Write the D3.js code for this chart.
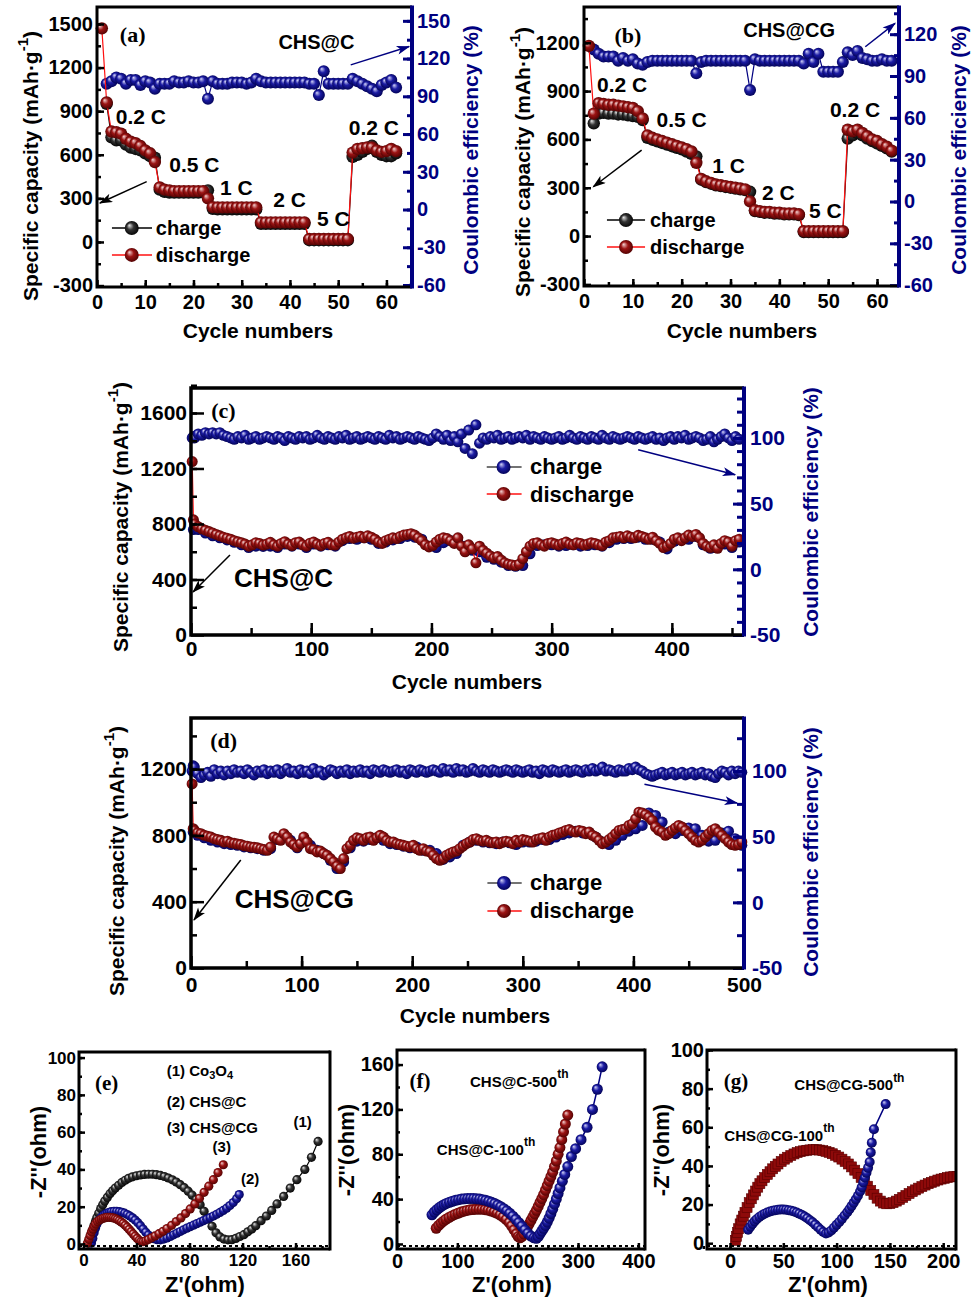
<!DOCTYPE html>
<html>
<head>
<meta charset="utf-8">
<script src="https://cdn.jsdelivr.net/npm/d3@7"></script>
<style>
body { margin: 0; background: #fff; }
svg { display: block; }
</style>
</head>
<body>
<script>
// ---------- data: (a) CHS@C rate test ----------
var cycA = d3.range(1, 63);
var cycA2 = d3.range(2, 63);
var dischA = [1470, 960, 760, 755, 745, 710, 690, 680, 660, 630, 610, 550,
  375, 360, 355, 350, 350, 350, 350, 350, 350, 350, 300,
  240, 238, 238, 238, 238, 238, 238, 238, 238, 238,
  135, 135, 135, 135, 135, 135, 135, 135, 135, 135,
  20, 20, 20, 20, 20, 20, 20, 20, 20,
  615, 640, 645, 650, 650, 630, 620, 625, 640, 625];
var chargeA = [950, 720, 700, 700, 670, 650, 640, 630, 610, 590, 580,
  360, 345, 340, 340, 340, 340, 340, 340, 340, 345, 355,
  228, 225, 225, 225, 225, 225, 225, 225, 225, 225,
  125, 125, 125, 125, 125, 125, 125, 125, 125, 125,
  12, 12, 12, 12, 12, 12, 12, 12, 12,
  585, 600, 620, 640, 662, 620, 600, 590, 590, 610];
var ceA = [100, 102, 105, 104, 100, 103, 103, 99, 102, 101, 96,
  100, 100, 100, 102, 101, 101, 102, 101, 101, 102, 88,
  102, 100, 100, 100, 101, 101, 101, 100, 101, 104,
  102, 101, 101, 101, 101, 101, 101, 101, 101, 101,
  100, 100, 91, 110, 100, 100, 100, 100, 100,
  104, 102, 100, 98, 96, 94, 99, 101, 103, 97];
var ratesA = ["0.2 C", "0.5 C", "1 C", "2 C", "5 C", "0.2 C"];
var rateXA = [9.1, 20.2, 28.9, 39.9, 49, 57.4];
var rateYA = [860, 530, 378, 289, 158, 785];

// ---------- data: (b) CHS@CG rate test ----------
var cycB = d3.range(1, 64);
var cycB2 = d3.range(2, 64);
var dischB = [1180, 760, 825, 820, 815, 815, 810, 805, 800, 795, 775, 730,
  625, 610, 600, 590, 580, 570, 560, 550, 540, 525, 455,
  355, 340, 330, 320, 315, 310, 305, 300, 295, 290, 215,
  160, 155, 150, 150, 145, 145, 140, 140, 140, 135,
  30, 30, 30, 30, 30, 30, 30, 30, 30,
  660, 650, 660, 640, 620, 600, 590, 570, 555, 530];
var chargeB = [700, 760, 765, 760, 760, 755, 755, 750, 745, 740, 720,
  610, 598, 588, 578, 568, 558, 548, 538, 525, 510, 495,
  350, 335, 325, 315, 310, 305, 300, 295, 290, 285, 275,
  155, 150, 145, 145, 140, 140, 135, 135, 135, 130,
  25, 25, 25, 25, 25, 25, 25, 25, 25,
  605, 625, 640, 625, 605, 590, 575, 560, 545, 525];
var ceB = [109, 106, 104, 104, 104, 101, 103, 101, 102, 99, 98,
  100, 101, 101, 101, 101, 101, 101, 101, 101, 101, 92,
  100, 101, 101, 101, 101, 101, 101, 101, 101, 101, 80,
  102, 101, 101, 101, 101, 101, 101, 101, 101, 101,
  99, 106, 100, 106, 93, 93, 93, 93, 100,
  107, 105, 108, 103, 102, 101, 101, 102, 101, 101];
var ratesB = ["0.2 C", "0.5 C", "1 C", "2 C", "5 C", "0.2 C"];
var rateXB = [7.8, 20, 29.6, 39.8, 49.4, 55.5];
var rateYB = [943, 724, 440, 269, 157, 786];

// ---------- data: (c) CHS@C long cycling ----------
var cycC = [1, 2].concat(d3.range(3, 457, 3));
var dischC = [1250, 830,
  800, 780, 765, 755, 745, 735, 725, 715, 705, 698,
  690, 680, 672, 665, 655, 640, 650, 665, 660, 648,
  655, 668, 650, 640, 660, 672, 655, 645, 665, 670,
  650, 640, 662, 670, 655, 645, 660, 668, 650, 648,
  670, 690, 700, 710, 698, 705, 712, 700, 715, 705,
  690, 670, 660, 680, 690, 700, 695, 710, 720, 725,
  730, 720, 700, 680, 650, 635, 645, 670, 690, 700,
  695, 680, 660, 700, 640, 600, 650, 620, 520, 640,
  610, 590, 570, 555, 565, 540, 520, 510, 505, 500,
  510, 550, 600, 640, 660, 665, 650, 640, 660, 665,
  655, 648, 660, 670, 655, 650, 665, 660, 648, 655,
  665, 660, 650, 645, 670, 680, 700, 705, 710, 700,
  715, 705, 700, 718, 710, 700, 690, 705, 680, 660,
  630, 640, 660, 690, 700, 680, 700, 720, 710, 725,
  700, 660, 640, 630, 650, 625, 660, 680, 670, 640,
  680, 690];
var cycC2 = [2].concat(d3.range(6, 457, 6));
var chargeC = [760,
  760, 735, 715, 700, 685, 668, 650, 630, 640, 638,
  640, 630, 655, 640, 655, 630, 655, 640, 650, 640,
  680, 695, 690, 700, 690, 660, 670, 685, 695, 710,
  705, 690, 640, 630, 665, 680, 665, 640, 610, 600,
  560, 545, 525, 500, 495, 500, 585, 645, 650, 650,
  640, 645, 650, 640, 645, 650, 640, 665, 690, 695,
  695, 705, 690, 690, 670, 620, 675, 690, 690, 710,
  650, 625, 640, 655, 630, 670];
var ceC = [100, 101,
  100, 103, 102, 104, 103, 104, 103, 104, 102, 101,
  100, 99, 101, 100, 102, 99, 100, 101, 99, 100,
  101, 100, 99, 101, 100, 98, 101, 100, 99, 101,
  100, 101, 99, 100, 102, 100, 99, 101, 100, 99,
  101, 100, 102, 99, 100, 101, 99, 100, 101, 100,
  99, 101, 100, 99, 102, 100, 101, 99, 100, 101,
  100, 99, 101, 100, 99, 98, 100, 103, 101, 99,
  102, 98, 101, 97, 103, 92, 106, 88, 110, 96,
  100, 99, 101, 100, 102, 99, 100, 101, 99, 100,
  101, 100, 102, 99, 101, 100, 99, 101, 100, 99,
  100, 101, 99, 100, 102, 100, 99, 101, 100, 99,
  101, 100, 99, 102, 100, 99, 101, 100, 99, 100,
  101, 100, 99, 101, 100, 99, 100, 101, 99, 100,
  98, 100, 101, 99, 101, 100, 102, 99, 100, 101,
  100, 98, 99, 101, 97, 99, 101, 103, 100, 98,
  101, 99];

// ---------- data: (d) CHS@CG long cycling ----------
var cycD = [1, 2].concat(d3.range(3, 499, 3));
var dischD = [1110, 840,
  830, 815, 810, 800, 795, 790, 780, 775, 770, 760,
  765, 755, 752, 748, 745, 738, 735, 730, 728, 725,
  720, 715, 710, 730, 790, 780, 770, 810, 790, 760,
  745, 730, 750, 790, 760, 720, 715, 700, 705, 690,
  680, 660, 640, 615, 600, 660, 720, 740, 770, 785,
  780, 770, 785, 790, 770, 785, 800, 790, 770, 760,
  760, 750, 745, 740, 735, 730, 740, 720, 710, 720,
  705, 700, 680, 660, 650, 660, 680, 690, 700, 705,
  720, 735, 750, 760, 775, 780, 770, 765, 770, 760,
  755, 760, 750, 760, 765, 760, 750, 770, 760, 775,
  770, 765, 760, 775, 780, 785, 770, 790, 800, 805,
  815, 820, 830, 835, 825, 820, 830, 825, 810, 820,
  800, 790, 770, 750, 760, 775, 790, 810, 830, 835,
  840, 860, 870, 900, 940, 935, 925, 910, 890, 850,
  830, 820, 800, 810, 830, 845, 860, 850, 830, 810,
  790, 770, 760, 770, 790, 810, 830, 840, 820, 800,
  780, 760, 745, 740, 745, 760];
var cycD2 = [2].concat(d3.range(6, 499, 6));
var chargeD = [820,
  800, 785, 770, 760, 750, 745, 740, 730, 725, 720,
  710, 720, 775, 800, 770, 725, 775, 740, 710, 690,
  650, 600, 640, 725, 765, 765, 775, 785, 770, 750,
  745, 735, 725, 730, 710, 710, 690, 655, 670, 690,
  740, 760, 770, 760, 755, 750, 760, 755, 745, 760,
  760, 765, 775, 775, 790, 805, 815, 825, 815, 815,
  790, 760, 745, 770, 800, 825, 840, 860, 935, 920,
  880, 820, 810, 830, 845, 840, 800, 765, 770, 815,
  825, 780, 740];
var ceD = [100, 104,
  103, 98, 95, 97, 99, 96, 101, 98, 100, 97,
  100, 98, 101, 99, 100, 98, 101, 99, 97, 100,
  99, 101, 98, 100, 99, 101, 98, 100, 102, 99,
  100, 98, 101, 99, 100, 98, 102, 99, 100, 97,
  99, 101, 100, 98, 100, 99, 101, 98, 100, 99,
  101, 99, 100, 98, 101, 100, 99, 101, 100, 99,
  100, 101, 99, 100, 98, 101, 100, 99, 101, 100,
  99, 100, 101, 100, 99, 102, 100, 101, 99, 102,
  100, 101, 99, 100, 102, 100, 99, 101, 100, 99,
  101, 100, 99, 100, 101, 100, 99, 101, 100, 99,
  100, 101, 99, 100, 98, 101, 100, 99, 101, 100,
  99, 100, 101, 99, 100, 101, 100, 99, 101, 100,
  102, 100, 101, 103, 100, 101, 100, 99, 101, 100,
  100, 102, 101, 103, 101, 100, 98, 97, 96, 97,
  98, 99, 97, 98, 99, 97, 98, 99, 97, 98,
  99, 97, 98, 99, 97, 98, 96, 95, 98, 100,
  99, 97, 100, 98, 100, 99];

// ---------- data: (e) Nyquist, fresh electrodes ----------
var eZr1 = [4, 5, 6, 7, 8, 9, 10, 11.5, 13, 14.5, 16, 18, 20, 22, 24, 26.5, 29, 31.5, 34, 37, 40, 43, 46, 49, 52, 55, 58, 61, 64, 67, 70, 73, 76, 79, 82, 85, 88, 91, 94, 97, 100, 103, 106, 109, 112, 115, 118, 121, 124, 127, 130, 134, 138, 142, 146, 151, 156, 161, 167, 172, 177];
var eZi1 = [0.5, 2.5, 5, 7.5, 10, 12, 14, 16.5, 19, 21, 23, 25, 27, 28.5, 30, 31.5, 33, 34.2, 35.2, 36, 36.6, 37, 37.3, 37.4, 37.4, 37.2, 36.8, 36.2, 35.4, 34.4, 33.2, 31.8, 30.2, 28.3, 26.2, 23.8, 21, 17.5, 13.5, 9.5, 6, 3.8, 2.6, 2.2, 2.3, 3, 4, 5, 6.5, 8, 9.8, 12.5, 15, 18, 21.5, 25.5, 30, 34.5, 40, 46.5, 55];
var eZr2 = [6, 7, 8, 9, 10, 11, 12, 13.5, 15, 16.5, 18, 19.5, 21, 23, 25, 27, 29, 31, 33, 35, 37, 39, 41, 43, 45, 47, 49, 51, 53, 55.5, 58, 60.5, 63, 65.5, 68, 70.5, 73, 75.5, 78, 80.5, 83, 85.5, 88, 90.5, 93, 95.5, 98, 100.5, 103, 105.5, 108, 110.5, 113, 115.5, 117.5];
var eZi2 = [0.5, 3, 6, 8.5, 10.5, 12, 13, 14.3, 15.3, 16, 16.6, 17, 17.3, 17.5, 17.5, 17.3, 17, 16.5, 15.8, 15, 14, 12.8, 11.4, 9.8, 8, 6.3, 4.8, 3.6, 2.8, 2.3, 2.2, 2.6, 3.2, 4, 4.9, 5.8, 6.7, 7.6, 8.5, 9.3, 10.1, 10.9, 11.7, 12.5, 13.3, 14.1, 15, 15.9, 16.9, 18, 19.2, 20.6, 22.2, 24.2, 26.5];
var eZr3 = [3, 4, 5, 6, 7, 8, 9, 10.5, 12, 13.5, 15, 16.5, 18, 19.5, 21, 22.5, 24, 25.5, 27, 28.5, 30, 31.5, 33, 34.5, 36, 37.5, 39, 40.5, 42, 43.5, 45, 47, 49, 51.5, 54, 57, 60, 63, 66.5, 70, 73.5, 77, 80.5, 84, 87.5, 91, 94.5, 98, 101.5, 105.5];
var eZi3 = [0.5, 2.5, 4.5, 6.5, 8, 9.5, 10.8, 12, 12.8, 13.4, 13.8, 14.1, 14.3, 14.3, 14.2, 14, 13.6, 13.1, 12.5, 11.8, 11, 10, 9, 7.8, 6.6, 5.4, 4.2, 3, 2, 1.3, 1.2, 1.7, 2.4, 3.3, 4.3, 5.5, 6.8, 8.3, 10, 12, 14, 16.3, 18.8, 21.5, 24.5, 27.7, 31, 34.5, 38.3, 42.5];

// ---------- data: (f) CHS@C after 100 / 500 cycles ----------
var fZr500 = [58, 62, 66, 70, 74, 78, 82, 87, 92, 97, 102, 107, 112, 117, 122, 127, 132, 137, 142, 147, 152, 157, 162, 167, 172, 177, 182, 187, 192, 197, 202, 207, 212, 217, 222, 227, 231, 234, 237, 240, 243, 246, 249, 252, 255, 258, 261, 264, 267, 270, 274, 278, 283, 289, 296, 305, 315, 324, 332, 340];
var fZi500 = [26, 28.5, 30.5, 32.3, 33.8, 35, 36.1, 37.2, 38.1, 38.9, 39.5, 40, 40.3, 40.5, 40.6, 40.5, 40.3, 40, 39.5, 38.9, 38.1, 37.1, 36, 34.7, 33.2, 31.5, 29.5, 27.3, 24.8, 22, 19, 15.8, 12.5, 9.5, 7, 5.5, 5, 6.5, 9, 11.5, 14, 16.5, 19.5, 23, 27, 31, 35.5, 40, 45, 50, 56, 62, 69, 78, 85, 93, 104, 120, 138, 158];
var fZr100 = [65, 69, 73, 77, 81, 86, 91, 96, 101, 106, 111, 116, 121, 126, 131, 136, 141, 146, 151, 156, 161, 166, 171, 176, 181, 186, 190, 194, 198, 201, 204, 207, 210, 213, 216, 219, 222, 225, 228, 231, 234, 237, 240, 243, 246, 249, 252, 255, 258, 261, 264, 267, 270, 273, 276, 279, 283];
var fZi100 = [14, 16.5, 18.5, 20.3, 22, 23.5, 25, 26.3, 27.4, 28.4, 29.2, 29.9, 30.4, 30.7, 30.9, 31, 30.9, 30.6, 30.1, 29.4, 28.5, 27.3, 25.8, 24, 21.8, 19, 16, 12.5, 9, 6.5, 5.5, 6.5, 9, 12, 15, 18, 21, 24, 27, 30, 33.5, 37, 40.5, 44, 48, 52, 56, 60, 64, 69, 74, 80, 86, 93, 100, 107, 115];

// ---------- data: (g) CHS@CG after 100 / 500 cycles ----------
var gZr100 = [5, 6, 7, 8, 9.5, 11, 12.5, 14, 16, 18, 20, 22, 24, 26, 28, 30, 32.5, 35, 37.5, 40, 42.5, 45, 48, 51, 54, 57, 60, 63, 66, 69, 72, 75, 78, 81, 84, 87, 90, 93, 96, 99, 102, 105, 108, 111, 114, 117, 120, 123, 126, 129, 132, 135, 138, 141, 144, 147, 150, 153, 156, 159, 162, 165, 168, 171, 174, 177, 180, 183, 186, 189, 192, 195, 198, 201, 204, 207, 210, 213];
var gZi100 = [1.5, 3.5, 5.5, 7.5, 10, 12, 14, 16, 18.5, 21, 23, 25, 27, 29, 30.8, 32.3, 34, 35.6, 37, 38.5, 39.8, 41, 42.3, 43.5, 44.5, 45.4, 46.2, 46.9, 47.4, 47.8, 48.1, 48.3, 48.4, 48.4, 48.2, 47.9, 47.5, 47, 46.3, 45.5, 44.6, 43.5, 42.3, 41, 39.5, 37.8, 36, 34, 31.8, 29.5, 27.3, 25.2, 23.3, 21.8, 20.8, 20.4, 20.5, 21, 21.8, 22.7, 23.7, 24.7, 25.7, 26.7, 27.6, 28.5, 29.3, 30.1, 30.8, 31.5, 32.1, 32.7, 33.2, 33.6, 34, 34.3, 34.5, 34.6];
var gZr500 = [17, 19, 21, 23, 25, 27.5, 30, 32.5, 35, 37.5, 40, 42.5, 45, 47.5, 50, 52.5, 55, 57.5, 60, 62.5, 65, 67.5, 70, 72.5, 75, 77.5, 80, 82.5, 85, 87.5, 90, 92.5, 95, 97.5, 100, 102.5, 105, 107.5, 110, 112, 114, 116, 118, 120, 122, 123.5, 125, 126.5, 128, 129.5, 131, 132, 133, 135, 146];
var gZi500 = [7, 8.5, 10, 11.3, 12.4, 13.6, 14.5, 15.3, 15.9, 16.4, 16.8, 17.1, 17.3, 17.4, 17.4, 17.3, 17.1, 16.8, 16.4, 15.9, 15.3, 14.6, 13.8, 12.9, 11.9, 10.8, 9.6, 8.3, 7, 5.8, 5, 5.5, 6.6, 8, 9.5, 11, 12.6, 14.3, 16, 17.6, 19.2, 20.9, 22.7, 24.6, 26.8, 29, 31.5, 34, 36.5, 39, 42, 47, 52, 59, 72];

// ---------- setup ----------
var FONT = "'Liberation Sans', Arial, sans-serif";
var SERIF = "'Liberation Serif', 'Times New Roman', serif";
var NAVY = "#000080";

var svg = d3.select("body").append("svg").attr("width", 978).attr("height", 1299);
var defs = svg.append("defs");

function grad(id, hi, mid, lo) {
  var g = defs.append("radialGradient").attr("id", id)
    .attr("cx", "50%").attr("cy", "50%").attr("r", "55%").attr("fx", "32%").attr("fy", "30%");
  g.append("stop").attr("offset", "0%").attr("stop-color", hi);
  g.append("stop").attr("offset", "45%").attr("stop-color", mid);
  g.append("stop").attr("offset", "100%").attr("stop-color", lo);
}
grad("gRed", "#f4d4d4", "#9c1414", "#4a0000");
grad("gBlack", "#e8e8e8", "#333", "#000");
grad("gBlue", "#d4d4f8", "#1c1ca4", "#000050");

function arrowHead(id, color) {
  defs.append("marker").attr("id", id).attr("viewBox", "0 0 12 8")
    .attr("refX", 11).attr("refY", 4).attr("markerWidth", 15).attr("markerHeight", 9)
    .attr("markerUnits", "userSpaceOnUse").attr("orient", "auto")
    .append("path").attr("d", "M0,0 L12,4 L0,8 L3,4 Z").attr("fill", color);
}
arrowHead("ahBlack", "#000");
arrowHead("ahNavy", NAVY);

function makePanel(box, xDom, yDom, y2Dom) {
  var p = { box: box };
  p.x = d3.scaleLinear().domain(xDom).range([box.l, box.r]);
  p.y = d3.scaleLinear().domain(yDom).range([box.b, box.t]);
  if (y2Dom) p.y2 = d3.scaleLinear().domain(y2Dom).range([box.b, box.t]);
  p.g = svg.append("g");
  p.data = p.g.append("g");
  return p;
}

function drawAxis(p, side, scale, major, minor, o) {
  var b = p.box;
  var color = o.color || "#000";
  var make = side == "bottom" ? d3.axisBottom : (side == "left" ? d3.axisLeft : d3.axisRight);
  var shift = side == "bottom" ? "translate(0," + b.b + ")" : "translate(" + (side == "left" ? b.l : b.r) + ",0)";
  var gMin = p.g.append("g").attr("transform", shift)
    .call(make(scale).tickValues(minor).tickSizeInner(-o.minor).tickSizeOuter(0).tickFormat(""));
  var gMaj = p.g.append("g").attr("transform", shift)
    .call(make(scale).tickValues(major).tickSizeInner(-o.major).tickSizeOuter(0).tickPadding(o.pad)
      .tickFormat(function(d) { return String(d); }));
  [gMin, gMaj].forEach(function(g) {
    g.select(".domain").remove();
    g.selectAll("line").attr("stroke", color).attr("stroke-width", o.tw || 2.5);
    g.selectAll("text").attr("fill", color).style("font-family", FONT)
      .style("font-size", o.size + "px").style("font-weight", "bold");
  });
}

function frame(p, rightColor, w) {
  var b = p.box;
  p.g.append("path").attr("d", "M" + b.r + "," + b.t + "H" + b.l + "V" + b.b + "H" + b.r)
    .attr("fill", "none").attr("stroke", "#000").attr("stroke-width", w || 3);
  p.g.append("line").attr("x1", b.r).attr("x2", b.r).attr("y1", b.t - 1.5).attr("y2", b.b + 1.5)
    .attr("stroke", rightColor).attr("stroke-width", rightColor == "#000" ? (w || 3) : 4);
}

function curve(p, xs, ys, ysc, color, w) {
  p.data.append("path").datum(d3.zip(xs, ys))
    .attr("d", d3.line().x(function(d) { return p.x(d[0]); }).y(function(d) { return ysc(d[1]); }))
    .attr("fill", "none").attr("stroke", color).attr("stroke-width", w || 1.2);
}

function balls(p, xs, ys, ysc, r, fill) {
  p.data.append("g").selectAll("circle").data(d3.zip(xs, ys)).join("circle")
    .attr("cx", function(d) { return p.x(d[0]); })
    .attr("cy", function(d) { return ysc(d[1]); })
    .attr("r", r).attr("fill", "url(#" + fill + ")");
}

function text(g, x, y, str, size, o) {
  o = o || {};
  return g.append("text").attr("x", x).attr("y", y).text(str)
    .attr("text-anchor", o.anchor || "middle").attr("dominant-baseline", "central")
    .style("font-family", o.font || FONT).style("font-weight", "bold")
    .style("font-size", size + "px").attr("fill", o.color || "#000");
}

function vtitle(x, y, size, color, sup) {
  var t = svg.append("text").attr("transform", "translate(" + x + "," + y + ") rotate(-90)")
    .attr("text-anchor", "middle").attr("dominant-baseline", "central")
    .style("font-family", FONT).style("font-weight", "bold").style("font-size", size + "px")
    .attr("fill", color);
  if (sup) {
    t.append("tspan").text("Specific capacity (mAh·g");
    t.append("tspan").attr("dy", -8).style("font-size", (size - 6) + "px").text("-1");
    t.append("tspan").attr("dy", 8).text(")");
  } else {
    t.text(color == NAVY ? "Coulombic efficiency (%)" : "-Z''(ohm)");
  }
}

function arrow(p, x1, y1, x2, y2, ysc, color, id, w) {
  p.g.append("line").attr("x1", p.x(x1)).attr("y1", ysc(y1)).attr("x2", p.x(x2)).attr("y2", ysc(y2))
    .attr("stroke", color).attr("stroke-width", w || 1.5).attr("marker-end", "url(#" + id + ")");
}

function legendRow(p, xl, xb, xr, xt, yv, fill, lineColor, label, size) {
  p.g.append("line").attr("x1", p.x(xl)).attr("x2", p.x(xr)).attr("y1", p.y(yv)).attr("y2", p.y(yv))
    .attr("stroke", lineColor).attr("stroke-width", 1.5);
  p.g.append("circle").attr("cx", p.x(xb)).attr("cy", p.y(yv)).attr("r", 7).attr("fill", "url(#" + fill + ")");
  text(p.g, p.x(xt), p.y(yv), label, size, { anchor: "start" });
}

// ---------- (a) ----------
var A = makePanel({ l: 97, r: 412, t: 7, b: 287 }, [0, 65.3], [-310, 1617], [-61.6, 161]);
curve(A, cycA2, ceA, A.y2, NAVY, 1.2);
balls(A, cycA2, ceA, A.y2, 6, "gBlue");
curve(A, cycA2, chargeA, A.y, "#000", 1.2);
balls(A, cycA2, chargeA, A.y, 6.2, "gBlack");
curve(A, cycA, dischA, A.y, "#ff1010", 1.2);
balls(A, cycA, dischA, A.y, 6.2, "gRed");
drawAxis(A, "bottom", A.x, d3.range(0, 61, 10), d3.range(5, 66, 5), { major: 7, minor: 4, pad: 8, size: 20 });
drawAxis(A, "left", A.y, d3.range(-300, 1501, 300), d3.range(-150, 1601, 150), { major: 7, minor: 4, pad: 4, size: 20 });
drawAxis(A, "right", A.y2, d3.range(-60, 151, 30), d3.range(-45, 161, 15), { major: 9, minor: 5, pad: 5, size: 20, color: NAVY, tw: 3 });
frame(A, NAVY);
text(A.g, A.x(7.4), A.y(1425), "(a)", 22, { font: SERIF });
text(A.g, A.x(45.5), A.y(1376), "CHS@C", 20);
ratesA.forEach(function(r, i) { text(A.g, A.x(rateXA[i]), A.y(rateYA[i]), r, 21); });
legendRow(A, 3.1, 7.2, 11.4, 12.2, 96, "gBlack", "#000", "charge", 20);
legendRow(A, 3.1, 7.2, 11.4, 12.2, -89, "gRed", "#ff1010", "discharge", 20);
arrow(A, 10.3, 415, 0.6, 268, A.y, "#000", "ahBlack");
arrow(A, 52.6, 115, 64.7, 129.6, A.y2, NAVY, "ahNavy");
vtitle(30, 166, 21, "#000", true);
vtitle(470, 150, 21, NAVY, false);
text(svg, 258, 330, "Cycle numbers", 21);

// ---------- (b) ----------
var B = makePanel({ l: 584, r: 899, t: 7, b: 286 }, [0, 64.5], [-310, 1422], [-60.6, 139.5]);
curve(B, cycB2, ceB, B.y2, NAVY, 1.2);
balls(B, cycB2, ceB, B.y2, 6, "gBlue");
curve(B, cycB2, chargeB, B.y, "#000", 1.2);
balls(B, cycB2, chargeB, B.y, 6.2, "gBlack");
curve(B, cycB, dischB, B.y, "#ff1010", 1.2);
balls(B, cycB, dischB, B.y, 6.2, "gRed");
drawAxis(B, "bottom", B.x, d3.range(0, 61, 10), d3.range(5, 65, 5), { major: 7, minor: 4, pad: 8, size: 20 });
drawAxis(B, "left", B.y, d3.range(-300, 1201, 300), d3.range(-150, 1401, 150), { major: 7, minor: 4, pad: 4, size: 20 });
drawAxis(B, "right", B.y2, d3.range(-60, 121, 30), d3.range(-45, 136, 15), { major: 9, minor: 5, pad: 5, size: 20, color: NAVY, tw: 3 });
frame(B, NAVY);
text(B.g, B.x(9.0), B.y(1247), "(b)", 22, { font: SERIF });
text(B.g, B.x(42), B.y(1278), "CHS@CG", 20);
ratesB.forEach(function(r, i) { text(B.g, B.x(rateXB[i]), B.y(rateYB[i]), r, 21); });
legendRow(B, 4.7, 8.6, 12.5, 13.5, 99, "gBlack", "#000", "charge", 20);
legendRow(B, 4.7, 8.6, 12.5, 13.5, -68, "gRed", "#ff1010", "discharge", 20);
arrow(B, 11.8, 533, 1.9, 306, B.y, "#000", "ahBlack");
arrow(B, 57.6, 111, 63.7, 127.8, B.y2, NAVY, "ahNavy");
vtitle(522, 162, 21, "#000", true);
vtitle(958, 150, 21, NAVY, false);
text(svg, 742, 330, "Cycle numbers", 21);

// ---------- (c) ----------
var C = makePanel({ l: 191, r: 744, t: 388, b: 635 }, [0, 460], [0, 1780], [-50, 138]);
balls(C, cycC, ceC, C.y2, 5.5, "gBlue");
balls(C, cycC2, chargeC, C.y, 5.5, "gBlue");
curve(C, cycC, dischC, C.y, "#ff1010", 1.2);
balls(C, cycC, dischC, C.y, 5.5, "gRed");
drawAxis(C, "bottom", C.x, d3.range(0, 401, 100), d3.range(50, 451, 50), { major: 12, minor: 7, pad: 6, size: 21 });
drawAxis(C, "left", C.y, d3.range(0, 1601, 400), d3.range(200, 1801, 200), { major: 13, minor: 6, pad: 4, size: 21 });
drawAxis(C, "right", C.y2, d3.range(-50, 101, 50), d3.range(-40, 131, 10), { major: 11, minor: 7, pad: 6, size: 21, color: NAVY, tw: 3 });
frame(C, NAVY, 3.5);
text(C.g, C.x(27), C.y(1621), "(c)", 22, { font: SERIF });
text(C.g, C.x(77), C.y(411), "CHS@C", 26);
legendRow(C, 246, 260, 275, 282, 1211, "gBlue", "#444", "charge", 22);
legendRow(C, 246, 260, 275, 282, 1016, "gRed", "#ff1010", "discharge", 22);
arrow(C, 32.4, 577, 1.7, 310, C.y, "#000", "ahBlack");
arrow(C, 372, 91, 452.6, 72, C.y2, NAVY, "ahNavy");
vtitle(120, 517, 21, "#000", true);
vtitle(810, 512, 21, NAVY, false);
text(svg, 467, 681, "Cycle numbers", 21);

// ---------- (d) ----------
var D = makePanel({ l: 191, r: 744, t: 718, b: 968 }, [0, 500], [0, 1508], [-50, 140.4]);
balls(D, cycD, ceD, D.y2, 5.5, "gBlue");
balls(D, cycD2, chargeD, D.y, 5.5, "gBlue");
curve(D, cycD, dischD, D.y, "#ff1010", 1.2);
balls(D, cycD, dischD, D.y, 5.5, "gRed");
drawAxis(D, "bottom", D.x, d3.range(0, 501, 100), d3.range(50, 451, 50), { major: 12, minor: 7, pad: 9, size: 21 });
drawAxis(D, "left", D.y, d3.range(0, 1201, 400), d3.range(200, 1401, 200), { major: 13, minor: 6, pad: 4, size: 21 });
drawAxis(D, "right", D.y2, d3.range(-50, 101, 50), d3.range(-25, 126, 25), { major: 11, minor: 7, pad: 8, size: 21, color: NAVY, tw: 3 });
frame(D, NAVY, 3.5);
text(D.g, D.x(29.5), D.y(1375), "(d)", 22, { font: SERIF });
text(D.g, D.x(93.4), D.y(414), "CHS@CG", 26);
legendRow(D, 268, 283, 299, 306.5, 513, "gBlue", "#444", "charge", 22);
legendRow(D, 268, 283, 299, 306.5, 344, "gRed", "#ff1010", "discharge", 22);
arrow(D, 45, 651, 2.7, 290, D.y, "#000", "ahBlack");
arrow(D, 410, 90, 493.7, 75.6, D.y2, NAVY, "ahNavy");
vtitle(116, 861, 21, "#000", true);
vtitle(810, 852, 21, NAVY, false);
text(svg, 475, 1015, "Cycle numbers", 21);

// ---------- (e) ----------
var E = makePanel({ l: 79, r: 330, t: 1052, b: 1249 }, [-3.4, 186], [-2.7, 103]);
E.g.append("line").attr("x1", E.box.l).attr("x2", E.box.r).attr("y1", E.box.b - 3).attr("y2", E.box.b - 3)
  .attr("stroke", "#000").attr("stroke-width", 2).attr("stroke-dasharray", "3,3");
curve(E, eZr1, eZi1, E.y, "#000", 1.2);
balls(E, eZr1, eZi1, E.y, 4.6, "gBlack");
curve(E, eZr2, eZi2, E.y, NAVY, 1.2);
balls(E, eZr2, eZi2, E.y, 4.6, "gBlue");
curve(E, eZr3, eZi3, E.y, "#ff1010", 1.2);
balls(E, eZr3, eZi3, E.y, 4.6, "gRed");
drawAxis(E, "bottom", E.x, d3.range(0, 161, 40), d3.range(20, 181, 20), { major: 6, minor: 3, pad: 5, size: 17 });
drawAxis(E, "left", E.y, d3.range(0, 101, 20), d3.range(10, 101, 10), { major: 6, minor: 3, pad: 3, size: 17 });
frame(E, "#000", 3);
text(E.g, E.x(17.5), E.y(86.4), "(e)", 21, { font: SERIF });
var e1 = text(E.g, E.x(62.8), E.y(93.2), "(1) Co", 15, { anchor: "start" });
e1.append("tspan").attr("dy", 5).style("font-size", "11px").text("3");
e1.append("tspan").attr("dy", -5).text("O");
e1.append("tspan").attr("dy", 5).style("font-size", "11px").text("4");
text(E.g, E.x(62.8), E.y(76.5), "(2) CHS@C", 15, { anchor: "start" });
text(E.g, E.x(62.8), E.y(62.7), "(3) CHS@CG", 15, { anchor: "start" });
text(E.g, E.x(165.4), E.y(65.8), "(1)", 15);
text(E.g, E.x(104.3), E.y(52.3), "(3)", 15);
text(E.g, E.x(125.7), E.y(35.3), "(2)", 15);
vtitle(38, 1152, 22, "#000", false);
text(svg, 205, 1284, "Z'(ohm)", 22);

// ---------- (f) ----------
var F = makePanel({ l: 397, r: 645, t: 1050, b: 1249 }, [0, 411], [-4.5, 173]);
F.g.append("line").attr("x1", F.box.l).attr("x2", F.box.r).attr("y1", F.box.b - 3).attr("y2", F.box.b - 3)
  .attr("stroke", "#000").attr("stroke-width", 2).attr("stroke-dasharray", "3,3");
curve(F, fZr100, fZi100, F.y, "#ff1010", 1.2);
balls(F, fZr100, fZi100, F.y, 5.5, "gRed");
curve(F, fZr500, fZi500, F.y, NAVY, 1.5);
balls(F, fZr500, fZi500, F.y, 5.5, "gBlue");
drawAxis(F, "bottom", F.x, d3.range(0, 401, 100), d3.range(50, 401, 50), { major: 6, minor: 3, pad: 5, size: 20 });
drawAxis(F, "left", F.y, d3.range(0, 161, 40), d3.range(20, 171, 20), { major: 6, minor: 3, pad: 3, size: 20 });
frame(F, "#000", 3);
text(F.g, F.x(38), F.y(145), "(f)", 21, { font: SERIF });
var f1 = text(F.g, F.x(121), F.y(145), "CHS@C-500", 15, { anchor: "start" });
f1.append("tspan").attr("dy", -7).style("font-size", "12px").text("th");
var f2 = text(F.g, F.x(66), F.y(84.6), "CHS@C-100", 15, { anchor: "start" });
f2.append("tspan").attr("dy", -7).style("font-size", "12px").text("th");
vtitle(346, 1150, 22, "#000", false);
text(svg, 512, 1284, "Z'(ohm)", 22);

// ---------- (g) ----------
var G = makePanel({ l: 707, r: 956, t: 1050, b: 1249 }, [-21.6, 212], [-3, 100]);
svg.append("clipPath").attr("id", "clipG").append("rect")
  .attr("x", G.box.l).attr("y", G.box.t).attr("width", G.box.r - G.box.l).attr("height", G.box.b - G.box.t);
G.data.attr("clip-path", "url(#clipG)");
G.g.append("line").attr("x1", G.box.l).attr("x2", G.box.r).attr("y1", G.box.b - 3).attr("y2", G.box.b - 3)
  .attr("stroke", "#000").attr("stroke-width", 2).attr("stroke-dasharray", "3,3");
G.data.append("g").selectAll("rect").data(d3.zip(gZr100, gZi100)).join("rect")
  .attr("x", function(d) { return G.x(d[0]) - 5; })
  .attr("y", function(d) { return G.y(d[1]) - 5; })
  .attr("width", 10).attr("height", 10)
  .attr("fill", "#8e0a0a").attr("stroke", "#5a0000").attr("stroke-width", 0.6);
curve(G, gZr500, gZi500, G.y, NAVY, 1.5);
balls(G, gZr500, gZi500, G.y, 5, "gBlue");
drawAxis(G, "bottom", G.x, d3.range(0, 201, 50), d3.range(-25, 211, 25), { major: 6, minor: 3, pad: 5, size: 20 });
drawAxis(G, "left", G.y, d3.range(0, 101, 20), d3.range(10, 101, 10), { major: 6, minor: 3, pad: 3, size: 20 });
frame(G, "#000", 3);
text(G.g, G.x(5.6), G.y(83.8), "(g)", 21, { font: SERIF });
var g1 = text(G.g, G.x(60.3), G.y(82), "CHS@CG-500", 15, { anchor: "start" });
g1.append("tspan").attr("dy", -7).style("font-size", "12px").text("th");
var g2 = text(G.g, G.x(-5.3), G.y(56), "CHS@CG-100", 15, { anchor: "start" });
g2.append("tspan").attr("dy", -7).style("font-size", "12px").text("th");
vtitle(661, 1150, 22, "#000", false);
text(svg, 828, 1284, "Z'(ohm)", 22);
</script>
</body>
</html>
